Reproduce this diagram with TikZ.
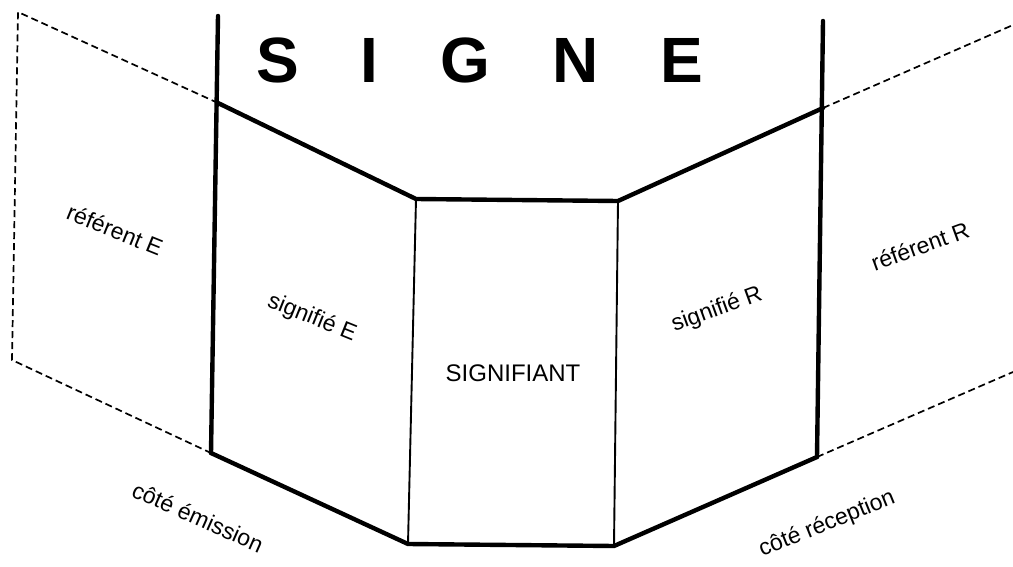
\documentclass[tikz,border=0pt]{standalone}
\usepackage{fontspec}
\setmainfont{Liberation Sans}
\begin{document}
\begin{tikzpicture}[x=1pt,y=-1pt,
  thickline/.style={line width=4.4pt,line cap=round,line join=round},
  thinline/.style={line width=1.9pt},
  dashline/.style={line width=1.7pt,dash pattern=on 7pt off 4pt},
  lbl/.style={font=\fontsize{23}{26}\selectfont},
  titre/.style={font=\fontsize{64}{70}\selectfont\bfseries\addfontfeature{LetterSpace=97}}]
\useasboundingbox (0,0) rectangle (1013,567);
% coordinates
\coordinate (LT) at (218,16);
\coordinate (A) at (218,103);
\coordinate (LB) at (211,453);
\coordinate (B) at (416,199);
\coordinate (C) at (618,201);
\coordinate (RT) at (823,21);
\coordinate (D) at (823,108);
\coordinate (RB) at (817,457);
\coordinate (E) at (408,544);
\coordinate (F) at (614,546);
\coordinate (P1) at (18,12);
\coordinate (P2) at (12,360);
\coordinate (Q1) at (1013,25);
\coordinate (Q2) at (1013,372);
% dashed referent planes
\draw[dashline] (A) -- (P1) -- (P2) -- (LB);
\draw[dashline] (D) -- (Q1);
\draw[dashline] (RB) -- (Q2);
% thin verticals
\draw[thinline] (B) -- (E);
\draw[thinline] (C) -- (F);
% thick outline
\draw[thickline] (LT) -- (LB);
\draw[thickline] (RT) -- (RB);
\draw[thickline] (A) -- (B) -- (C) -- (D);
\draw[thickline] (LB) -- (E) -- (F) -- (RB);
% title
\node[titre,anchor=base west,inner sep=0pt] (signe) at (256,83) {SIGNE};
% labels
\node[lbl,rotate=-22] (refE) at (115,230) {référent E};
\node[lbl,rotate=-22] (sigE) at (312,318) {signifié E};
\node[font=\fontsize{24}{28}\selectfont] (sigt) at (513,373) {SIGNIFIANT};
\node[lbl,rotate=20] (sigR) at (717,310) {signifié R};
\node[lbl,rotate=20] (refR) at (920,246) {référent R};
\node[lbl,rotate=-24] (emi) at (198,517) {côté émission};
\node[lbl,rotate=22] (rec) at (827,524) {côté réception};
\end{tikzpicture}
\end{document}
